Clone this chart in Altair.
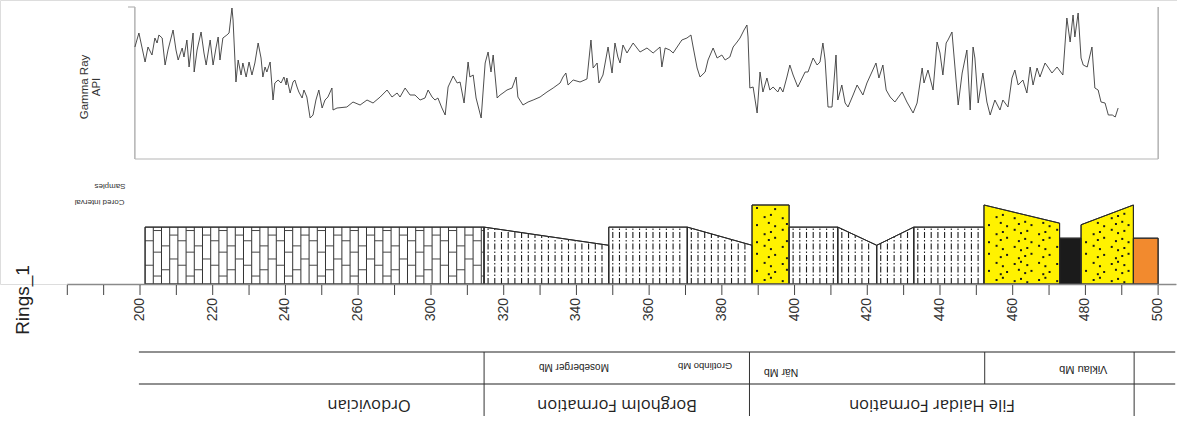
import altair as alt
import numpy as np
import pandas as pd

# ---------------- depth axis (piecewise: compressed 260-300 interval) ----------------
X_DOMAIN = [180, 260, 300, 505]
X_RANGE = [67.3, 358.1, 431.0, 1176.3]
TICK_VALUES = [180, 190, 200, 210, 220, 230, 240, 250, 260, 280] + list(range(300, 501, 10))
LABEL_VALUES = [200, 220, 240, 260] + list(range(300, 501, 20))

# ---------------- Gamma ray log ----------------
gr_depth = [198.6, 199.7, 201.4, 202.2, 203.3, 204.1, 204.7, 205.2, 206.1, 206.9, 207.7, 209.1, 209.9, 210.5,
            211.6, 212.1, 212.9, 213.5, 214.6, 214.9, 215.7, 216.8, 217.6, 218.2, 219.3, 220.1, 220.9, 221.5,
            222.0, 222.8, 223.9, 224.5, 225.3, 225.6, 226.4, 227.0, 227.8, 228.3, 229.2, 230.0, 230.8, 231.6,
            232.5, 233.3, 233.8, 234.4, 234.9, 235.8, 236.6, 237.1, 238.0, 238.8, 239.6, 240.2, 240.4, 241.3,
            242.1, 242.6, 243.2, 243.7, 244.6, 245.1, 245.9, 246.8, 247.6, 248.4, 249.2, 250.1, 250.9, 251.7,
            252.8, 253.1, 254.2, 256.9, 258.6, 261.1, 264.9, 268.2, 272.1, 275.9, 278.6, 281.4, 283.0, 285.8,
            288.5, 291.2, 294.0, 296.7, 298.4, 300.3, 301.1, 301.9, 303.0, 303.9, 304.7, 306.1, 307.2, 308.0,
            309.1, 310.2, 310.7, 311.6, 312.4, 313.8, 314.9, 315.7, 316.5, 317.1, 318.2, 319.0, 319.8, 320.9,
            322.3, 323.4, 323.9, 325.3, 326.7, 328.1, 330.0, 331.9, 333.6, 335.5, 336.3, 337.1, 337.7, 339.1,
            341.0, 342.9, 344.0, 344.6, 345.7, 346.2, 347.3, 348.7, 349.8, 350.6, 351.4, 352.0, 352.8, 353.9,
            355.6, 357.5, 359.4, 361.1, 363.0, 363.5, 364.4, 365.7, 366.6, 367.7, 369.0, 370.4, 371.5, 372.1,
            373.2, 374.0, 375.4, 376.2, 377.6, 378.7, 380.0, 380.9, 382.2, 383.1, 384.2, 385.0, 386.1, 386.9,
            387.2, 387.7, 388.6, 389.7, 390.5, 391.3, 392.4, 393.2, 394.1, 395.4, 396.0, 396.8, 397.9, 398.7,
            399.6, 400.9, 402.1, 402.9, 403.7, 405.1, 406.2, 407.0, 407.8, 408.4, 409.2, 410.3, 411.4, 411.9,
            413.0, 413.9, 414.7, 416.1, 417.2, 418.0, 418.8, 419.9, 422.4, 423.2, 424.3, 425.2, 426.3, 427.6,
            429.6, 430.9, 432.6, 433.7, 435.1, 435.6, 436.7, 438.1, 439.2, 440.0, 440.8, 441.7, 442.2, 443.3,
            443.6, 445.0, 446.1, 447.4, 448.3, 449.1, 449.6, 450.5, 451.8, 452.9, 453.8, 455.1, 456.5, 457.3,
            458.7, 459.8, 460.6, 461.5, 462.8, 463.9, 464.8, 465.6, 466.7, 467.5, 468.9, 469.7, 470.8, 472.2,
            473.8, 474.9, 475.8, 476.6, 477.1, 478.0, 478.8, 479.4, 480.5, 481.8, 482.6, 483.5, 484.3, 485.4,
            486.3, 487.4, 488.2, 489.0]
gr_api = [112, 126, 97, 112, 104, 121, 116, 124, 121, 94, 109, 129, 109, 99,
          111, 102, 119, 92, 126, 87, 109, 127, 106, 94, 119, 94, 111, 122,
          99, 121, 124, 126, 151, 139, 77, 99, 84, 96, 82, 97, 84, 96,
          116, 101, 82, 92, 87, 97, 59, 76, 79, 76, 82, 74, 81, 66,
          77, 79, 72, 67, 61, 69, 62, 41, 44, 59, 69, 51, 59, 62,
          71, 49, 51, 52, 57, 54, 59, 56, 62, 69, 62, 66, 62, 71,
          64, 64, 59, 61, 69, 62, 59, 61, 51, 44, 72, 83, 76, 77,
          56, 97, 82, 84, 61, 41, 96, 107, 87, 104, 61, 64, 66, 69,
          71, 82, 62, 54, 57, 59, 62, 67, 71, 76, 82, 86, 74, 79,
          77, 80, 119, 91, 96, 76, 84, 112, 86, 116, 102, 96, 114, 106,
          116, 107, 111, 106, 112, 92, 111, 109, 106, 112, 119, 121, 124, 112,
          91, 82, 87, 99, 111, 101, 104, 99, 102, 112, 117, 121, 129, 134,
          122, 71, 72, 46, 87, 67, 81, 69, 72, 67, 72, 67, 82, 94,
          84, 72, 81, 87, 87, 101, 94, 97, 116, 99, 52, 52, 104, 59,
          74, 56, 52, 64, 74, 69, 64, 76, 96, 81, 94, 69, 62, 57,
          67, 57, 46, 56, 91, 76, 89, 69, 117, 106, 84, 116, 119, 127,
          114, 54, 86, 109, 49, 112, 101, 56, 86, 57, 44, 59, 49, 59,
          52, 81, 89, 74, 79, 66, 92, 74, 91, 82, 96, 92, 86, 92,
          84, 141, 117, 144, 122, 146, 101, 94, 92, 112, 71, 69, 57, 56,
          44, 44, 42, 51]

# ---------------- Lithology column ----------------
lith_name = ["Limestone", "Siltstone", "Siltstone", "Siltstone", "Sandstone", "Siltstone", "Siltstone",
             "Siltstone", "Siltstone", "Sandstone", "Coal", "Sandstone", "Claystone"]
lith_from = [201.4, 314.6, 348.9, 370.5, 388.3, 398.5, 411.9, 422.6, 432.8, 452.1, 472.9, 478.8, 493.2]
lith_to = [314.6, 348.9, 370.5, 388.3, 398.5, 411.9, 422.6, 432.8, 452.1, 472.9, 478.8, 493.2, 500.0]
lith_top_from = [72, 72, 72, 72, 100, 72, 72, 49, 72, 100, 58, 75, 58]
lith_top_to = [72, 49, 72, 49, 100, 72, 49, 72, 72, 77, 58, 100, 58]
LITH_TYPES = ["Limestone", "Siltstone", "Sandstone", "Coal", "Claystone"]
LITH_COLORS = ["#ffffff", "#ffffff", "#fff200", "#1b1b1b", "#f28a2e"]

# ---------------- Stratigraphy table ----------------
table_left, table_right = 199.7, 504.7
form_names = ["Ordovician", "Borgholm Formation", "File Haidar Formation"]
form_label_depth = [266.0, 351.2, 437.8]
form_bounds_full = [314.6, 387.6, 493.4]
member_only_bounds = [452.3]
member_names = ["Moseberger Mb", "Grotlinbo Mb", "När Mb", "Viklau Mb"]
member_label_depth = [339.3, 375.4, 396.3, 479.4]

# ---------------- helpers ----------------
def d2px(d):
    return np.interp(d, X_DOMAIN, X_RANGE)


def px2d(p):
    return np.interp(p, X_RANGE, X_DOMAIN)


PLOT_H = 284          # plot area ends on the depth axis line; table sits in the bottom padding
xscale = alt.Scale(domain=X_DOMAIN, range=X_RANGE, nice=False, zero=False)
grscale = alt.Scale(domain=[0, 152], range=[159, 7], nice=False, zero=False)
L_RANGE = [284, 205]
lscale = alt.Scale(domain=[0, 100], range=L_RANGE, nice=False, zero=False)
LPX = (L_RANGE[0] - L_RANGE[1]) / 100.0

FONT = "Liberation Sans"
layers = []


def X(field):
    return alt.X(field, scale=xscale, axis=None)


# GR frame
gr_frame_v = pd.DataFrame({"depth": [198.6, 500.0], "lo": [0, 0], "hi": [152, 152]})
layers.append(alt.Chart(gr_frame_v).mark_rule(color="#8c8c8c", strokeWidth=1).encode(
    x=X("depth:Q"), y=alt.Y("lo:Q", scale=grscale, axis=None), y2="hi:Q"))
gr_frame_h = pd.DataFrame({"d0": [198.6, 196.7], "d1": [500.0, 198.6], "api": [0, 152]})
layers.append(alt.Chart(gr_frame_h).mark_rule(color="#b5b5b5", strokeWidth=1.2).encode(
    x=X("d0:Q"), x2="d1:Q", y=alt.Y("api:Q", scale=grscale, axis=None)))

# GR curve
gr_df = pd.DataFrame({"depth": gr_depth, "api": gr_api})
layers.append(alt.Chart(gr_df).mark_line(color="#3a3a3a", strokeWidth=0.9).encode(
    x=X("depth:Q"), y=alt.Y("api:Q", scale=grscale, axis=None)))

# Lithology blocks (areas)
rows = []
for i, (n, a, b, ta, tb) in enumerate(zip(lith_name, lith_from, lith_to, lith_top_from, lith_top_to)):
    rows.append({"block": i, "lith": n, "depth": a, "top": ta, "base": 0})
    rows.append({"block": i, "lith": n, "depth": b, "top": tb, "base": 0})
lith_df = pd.DataFrame(rows)

layers.append(alt.Chart(lith_df).mark_area(opacity=1, stroke="#2a2a2a", strokeWidth=1).encode(
    x=X("depth:Q"),
    y=alt.Y("top:Q", scale=lscale, axis=None, stack=None), y2="base:Q",
    fill=alt.Fill("lith:N", scale=alt.Scale(domain=LITH_TYPES, range=LITH_COLORS), legend=None),
    detail="block:N"))

# Patterns
brick_v, brick_h, silt_v, sand_pts = [], [], [], []
brick_cycle = [[0.33, 0.76], [0.14, 0.56, 0.94], [0.25, 0.67], [0.44, 0.86]]
for n, a, b, ta, tb in zip(lith_name, lith_from, lith_to, lith_top_from, lith_top_to):
    p0, p1 = d2px(a), d2px(b)
    if n == "Limestone":
        xs = list(np.arange(p0 + 8.2, p1 - 2, 8.2))
        edges = [p0] + xs + [p1]
        for x in xs:
            brick_v.append({"d": float(px2d(x)), "y0": 0, "y1": ta})
        for j in range(len(edges) - 1):
            for f in brick_cycle[j % 4]:
                brick_h.append({"d0": float(px2d(edges[j])), "d1": float(px2d(edges[j + 1])), "y": f * ta})
    elif n == "Siltstone":
        for x in np.arange(p0 + 4, p1 - 1.5, 6.7):
            d = float(px2d(x))
            t = ta + (tb - ta) * (d - a) / (b - a)
            silt_v.append({"d": d, "y0": 0, "y1": t})
    elif n == "Sandstone":
        r = 0
        for ypx in np.arange(4, 80, 8.0):
            off = 4.2 if r % 2 else 0
            c = 0
            for x in np.arange(p0 + 3 + off, p1 - 2, 8.5):
                jx = ((r * 5 + c * 3) % 5 - 2) * 1.1
                jy = ((r * 3 + c * 7) % 5 - 2) * 1.1
                xx = x + jx
                d = float(px2d(xx))
                t = ta + (tb - ta) * (d - a) / (b - a)
                yv = (ypx + jy) / LPX
                if p0 + 1.5 < xx < p1 - 1.5 and 1.5 < yv < t - 3:
                    sand_pts.append({"d": d, "y": yv})
                c += 1
            r += 1

layers.append(alt.Chart(pd.DataFrame(brick_v)).mark_rule(color="#333333", strokeWidth=1).encode(
    x=X("d:Q"), y=alt.Y("y0:Q", scale=lscale, axis=None), y2="y1:Q"))
layers.append(alt.Chart(pd.DataFrame(brick_h)).mark_rule(color="#444444", strokeWidth=1).encode(
    x=X("d0:Q"), x2="d1:Q", y=alt.Y("y:Q", scale=lscale, axis=None)))
layers.append(alt.Chart(pd.DataFrame(silt_v)).mark_rule(color="#1e1e1e", strokeWidth=1.1,
                                                         strokeDash=[6, 2, 1.5, 2]).encode(
    x=X("d:Q"), y=alt.Y("y0:Q", scale=lscale, axis=None), y2="y1:Q"))
layers.append(alt.Chart(pd.DataFrame(sand_pts)).mark_point(filled=True, color="#1a1a1a", size=4,
                                                           opacity=1, shape="square").encode(
    x=X("d:Q"), y=alt.Y("y:Q", scale=lscale, axis=None)))

# Re-stroke block outlines on top of patterns
layers.append(alt.Chart(lith_df).mark_area(opacity=1, fillOpacity=0, stroke="#2a2a2a", strokeWidth=1).encode(
    x=X("depth:Q"),
    y=alt.Y("top:Q", scale=lscale, axis=None, stack=None), y2="base:Q",
    detail="block:N"))

# Depth axis: baseline, ticks and labels drawn through the shared depth scale
layers.append(alt.Chart(pd.DataFrame({"d0": [X_DOMAIN[0]], "d1": [X_DOMAIN[-1]]})).mark_rule(
    color="#8a8a8a", strokeWidth=1.6).encode(x=X("d0:Q"), x2="d1:Q", y=alt.value(284.5)))
layers.append(alt.Chart(pd.DataFrame({"d": TICK_VALUES})).mark_rule(color="#444444", strokeWidth=1).encode(
    x=X("d:Q"), y=alt.value(285), y2=alt.value(295)))
layers.append(alt.Chart(pd.DataFrame({"d": LABEL_VALUES, "t": [str(v) for v in LABEL_VALUES]})).mark_text(
    angle=270, align="right", baseline="middle", fontSize=14, font=FONT, color="#333333").encode(
    x=X("d:Q"), y=alt.value(298), text="t:N"))

# Stratigraphy table lines (drawn in the padding under the plot area)
hl = pd.DataFrame({"d0": [table_left], "d1": [table_right]})
for ypx in [352, 384]:
    layers.append(alt.Chart(hl).mark_rule(color="#222222", strokeWidth=1.2).encode(
        x=X("d0:Q"), x2="d1:Q", y=alt.value(ypx)))
layers.append(alt.Chart(pd.DataFrame({"d": form_bounds_full})).mark_rule(color="#333333", strokeWidth=1).encode(
    x=X("d:Q"), y=alt.value(352), y2=alt.value(416)))
layers.append(alt.Chart(pd.DataFrame({"d": member_only_bounds})).mark_rule(color="#333333", strokeWidth=1).encode(
    x=X("d:Q"), y=alt.value(352), y2=alt.value(384)))

# Formation labels (upside down)
layers.append(alt.Chart(pd.DataFrame({"d": form_label_depth, "t": form_names})).mark_text(
    angle=180, fontSize=16.5, font="Open Sans", color="#222222", align="center", baseline="middle").encode(
    x=X("d:Q"), y=alt.value(405), text="t:N"))

member_sizes = [10, 9.5, 10.5, 11]
member_y = [367, 366, 372, 369]
for n, d, fs, yy in zip(member_names, member_label_depth, member_sizes, member_y):
    layers.append(alt.Chart(pd.DataFrame({"d": [d], "t": [n]})).mark_text(
        angle=180, fontSize=fs, font=FONT, color="#222222", align="center", baseline="middle").encode(
        x=X("d:Q"), y=alt.value(yy), text="t:N"))


# Track titles
def label(txt, x, y, size, angle=0, color="#333333"):
    kw = dict(fontSize=size, font=FONT, color=color, align="center", baseline="middle")
    if angle:
        kw["angle"] = angle
    return alt.Chart(pd.DataFrame({"t": [txt]})).mark_text(**kw).encode(
        x=alt.value(x), y=alt.value(y), text="t:N")


layers.append(label("Gamma Ray", 85, 87, 11.5, 270))
layers.append(label("API", 97, 87, 11.5, 270))
layers.append(label("Rings_1", 23, 300, 19, 270, "#222222"))
layers.append(label("Samples", 110, 185.5, 8, 180))
layers.append(label("Cored interval", 99.5, 202, 8, 180))

chart = alt.layer(*layers).resolve_scale(y="independent").properties(
    width=1177, height=PLOT_H,
    padding={"left": 0, "top": 0, "right": 0, "bottom": 421 - PLOT_H},
    autosize=alt.AutoSizeParams(type="none")
).configure_view(stroke=None).configure(background="white")

chart.save("out.html", embed_options={"renderer": "svg", "actions": False})
